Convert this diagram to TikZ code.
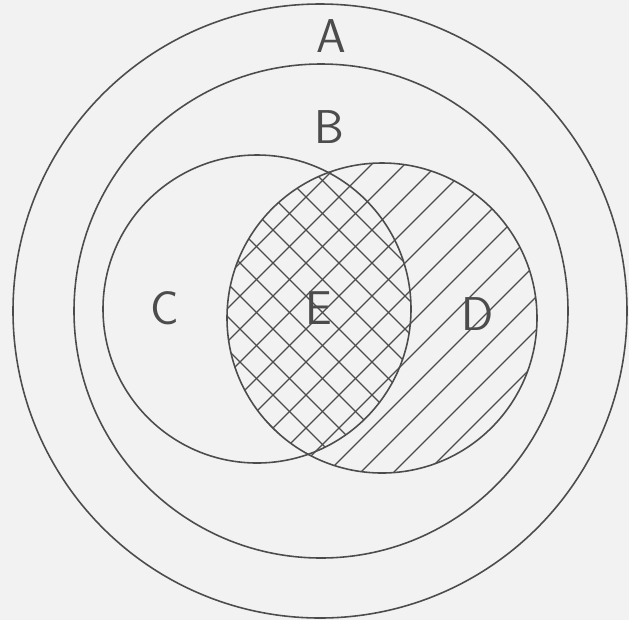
\documentclass[tikz,border=0pt]{standalone}
\begin{document}
\begin{tikzpicture}[
  x=0.02cm, y=-0.02cm,
  ring/.style={draw=black!70, line width=0.9pt},
  hatch/.style={draw=black!70, line width=0.75pt},
  lbl/.style={font=\sffamily\fontsize{27}{27}\selectfont, text=black!70, inner sep=0pt}
]
  \fill[black!5] (0,0) rectangle (629,620);
  \useasboundingbox (0,0) rectangle (629,620);

  \coordinate (cA) at (320,311);
  \coordinate (cB) at (321,311);
  \coordinate (cC) at (257,309);
  \coordinate (cD) at (382,318);

  % single hatch in D
  \begin{scope}
    \clip (cD) circle (155);
    \foreach \k in {11,...,31} {
      \draw[hatch] ({8+33*\k},0) -- (0,{8+33*\k});
    }
  \end{scope}
  % cross hatch in C and D
  \begin{scope}
    \clip (cC) circle (154);
    \clip (cD) circle (155);
    \foreach \k in {-9,...,9} {
      \draw[hatch] ({10+33*\k},0) -- ({710+33*\k},700);
    }
  \end{scope}

  \draw[ring] (cA) circle (307);
  \draw[ring] (cB) circle (247);
  \draw[ring] (cC) circle (154);
  \draw[ring] (cD) circle (155);

  \node[lbl] (lA) at (331,36) {A};
  \node[lbl] (lB) at (329,127) {B};
  \node[lbl] (lC) at (165,308) {C};
  \node[lbl] (lE) at (319,308) {E};
  \node[lbl] (lD) at (478,314) {D};
\end{tikzpicture}
\end{document}
